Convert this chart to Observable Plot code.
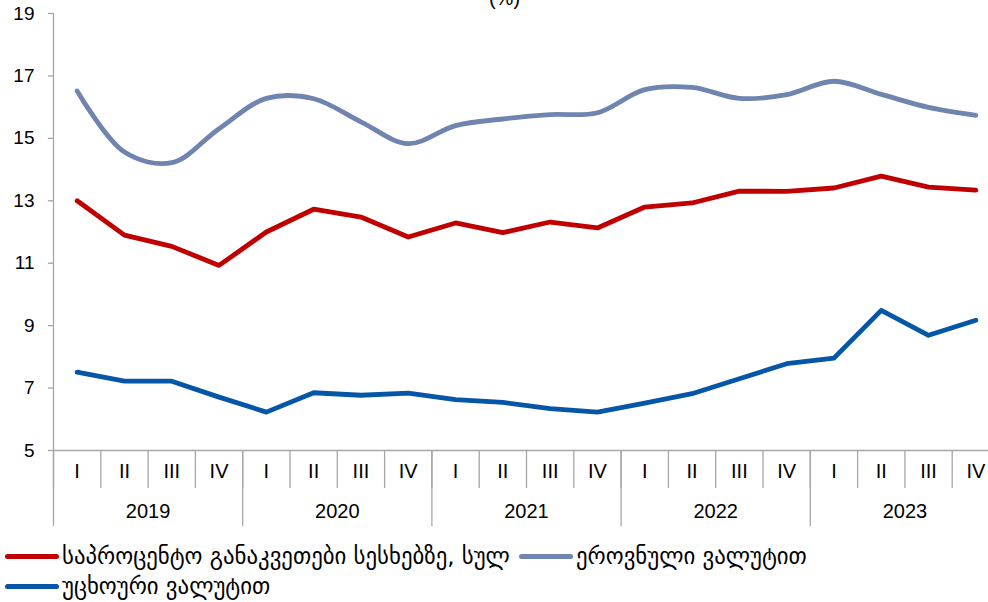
<!DOCTYPE html>
<html>
<head>
<meta charset="utf-8">
<script src="https://cdn.jsdelivr.net/npm/d3@7"></script>
<script src="https://cdn.jsdelivr.net/npm/@observablehq/plot@0.6"></script>
<style>
  html, body { margin: 0; padding: 0; background: #fff; overflow: hidden; width: 988px; height: 602px; }
  #chart { position: relative; width: 988px; height: 540px; overflow: hidden; }
  #legend { position: relative; width: 988px; height: 62px; font-family: "DejaVu Sans", sans-serif; font-size: 22.8px; color: #000; }
  .item { position: absolute; display: flex; align-items: center; white-space: nowrap; height: 30px; }
  .sw { display: inline-block; width: 54px; height: 5px; border-radius: 3px; margin-right: 3px; }
</style>
</head>
<body>
<div id="chart"></div>
<div id="legend"></div>
<script>
const years = ["2019", "2020", "2021", "2022", "2023"];
const quarters = ["I", "II", "III", "IV"];
const seriesNames = [
  "საპროცენტო განაკვეთები სესხებზე, სულ",
  "ეროვნული ვალუტით",
  "უცხოური ვალუტით"
];
const seriesColors = ["#C00000", "#7084B0", "#0656A8"];
const total    = [13.00, 11.90, 11.54, 10.93, 12.00, 12.73, 12.48, 11.84, 12.29, 11.98, 12.32, 12.13, 12.80, 12.93, 13.31, 13.30, 13.41, 13.79, 13.44, 13.34];
const national = [16.52, 14.56, 14.22, 15.31, 16.28, 16.27, 15.53, 14.83, 15.41, 15.62, 15.76, 15.82, 16.56, 16.63, 16.28, 16.40, 16.83, 16.41, 15.99, 15.74];
const foreign  = [7.51, 7.22, 7.22, 6.71, 6.23, 6.85, 6.77, 6.84, 6.63, 6.54, 6.34, 6.23, 6.52, 6.82, 7.30, 7.78, 7.96, 9.49, 8.69, 9.17];
const yTicks = [5, 7, 9, 11, 13, 15, 17, 19];
const title = "(%)";

const n = years.length * quarters.length;
const idx = d3.range(n);
const xDomain = [-0.5, n - 0.5];
const yDomain = [yTicks[0], yTicks[yTicks.length - 1]];
const quarterBounds = d3.range(n + 1).map(i => i - 0.5);
const yearBounds = d3.range(years.length + 1).map(k => k * quarters.length - 0.5);
const yearCenters = years.map((y, k) => k * quarters.length + (quarters.length - 1) / 2);

const table = (vals) => vals.map((v, i) => ({i, v}));
const gray = "#A6A6A6";
const font = "Liberation Sans, Arial, sans-serif";

const plot = Plot.plot({
  width: 1000,
  height: 540,
  marginLeft: 53,
  marginRight: 1,
  marginTop: 13,
  marginBottom: 90,
  style: {maxWidth: "none", fontFamily: font, background: "#fff", color: "#000"},
  x: {type: "linear", domain: xDomain, axis: null},
  y: {type: "linear", domain: yDomain, axis: null},
  marks: [
    // axis lines
    Plot.ruleX([xDomain[0]], {stroke: gray, strokeWidth: 1.3}),
    Plot.ruleY([yDomain[0]], {stroke: gray, strokeWidth: 1.3}),
    // y axis
    Plot.axisY({ticks: yTicks, tickSize: 5, tickPadding: 14, stroke: gray, fill: "#000", fontSize: 19, label: null, strokeWidth: 1.3}),
    // quarter separators
    Plot.axisX({ticks: quarterBounds, tickSize: 38, tickFormat: () => "", stroke: gray, label: null, strokeWidth: 1.3}),
    // year separators
    Plot.axisX({ticks: yearBounds, tickSize: 76, tickFormat: () => "", stroke: gray, label: null, strokeWidth: 1.3}),
    // quarter labels
    Plot.axisX({ticks: idx, tickSize: 0, tickPadding: 13, tickFormat: i => quarters[i % quarters.length], fill: "#000", fontSize: 20, label: null}),
    // year labels
    Plot.axisX({ticks: yearCenters, tickSize: 0, tickPadding: 53, tickFormat: (c) => years[Math.round((c - 1.5) / quarters.length)], fill: "#000", fontSize: 20, label: null}),
    // series
    Plot.line(table(national), {x: "i", y: "v", stroke: seriesColors[1], strokeWidth: 4.8, curve: "catmull-rom", strokeLinecap: "round", strokeLinejoin: "round"}),
    Plot.line(table(total), {x: "i", y: "v", stroke: seriesColors[0], strokeWidth: 4.8, strokeLinecap: "round", strokeLinejoin: "round"}),
    Plot.line(table(foreign), {x: "i", y: "v", stroke: seriesColors[2], strokeWidth: 4.8, strokeLinecap: "round", strokeLinejoin: "round"}),
    // title (cut off at top, as in the reference)
    Plot.text([title], {frameAnchor: "top", dy: -9, dx: -22, lineAnchor: "bottom", fontSize: 20, fill: "#000"})
  ]
});
document.getElementById("chart").appendChild(plot);

const legend = document.getElementById("legend");
const pos = [{left: 5, top: 1}, {left: 519, top: 1}, {left: 5, top: 31}];
seriesNames.forEach((name, k) => {
  const it = document.createElement("div");
  it.className = "item";
  it.style.left = pos[k].left + "px";
  it.style.top = pos[k].top + "px";
  const sw = document.createElement("span");
  sw.className = "sw";
  sw.style.background = seriesColors[k];
  const tx = document.createElement("span");
  tx.textContent = name;
  it.appendChild(sw);
  it.appendChild(tx);
  legend.appendChild(it);
});
</script>
</body>
</html>
